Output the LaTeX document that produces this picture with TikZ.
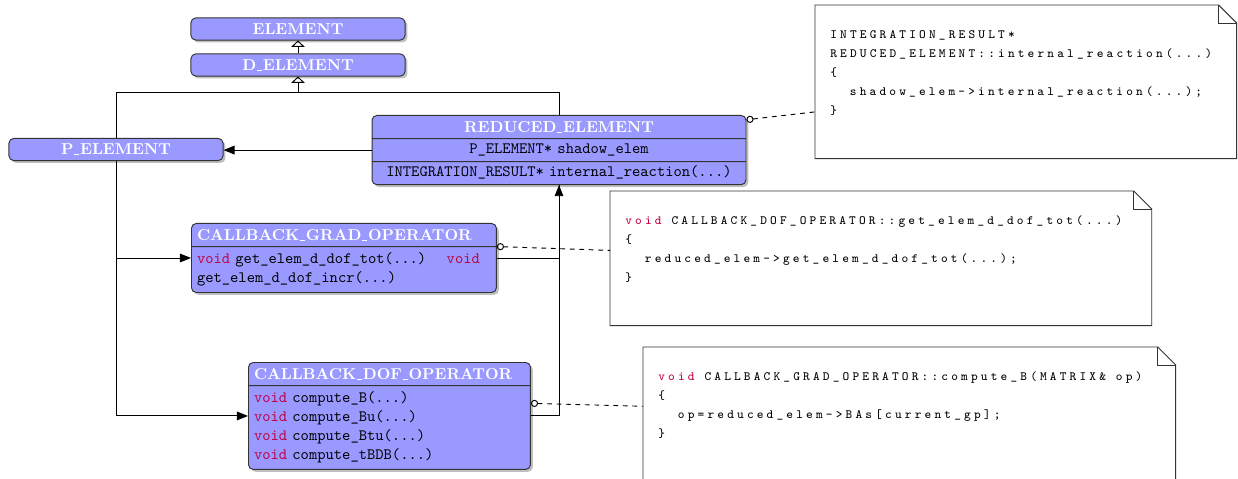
\documentclass[tikz,border=0pt]{standalone}
\usepackage{fontspec}
\usetikzlibrary{arrows.meta,shapes.multipart,shadows}
\newfontfamily\notemono{lmmono8-regular}[Extension=.otf,LetterSpace=25]
\newcommand{\us}{\leavevmode\kern.06em\vbox{\hrule width.3em height.5pt}\kern.06em}
\newcommand{\clsname}[1]{{\rmfamily\bfseries\color{white}\rule[-2.6pt]{0pt}{12pt}#1}}
\newcommand{\kw}[1]{\textcolor{purple}{#1}}
\newcommand{\topgap}{\rule{0pt}{9.5pt}}
\newcommand{\botgap}{\rule[-5pt]{0pt}{5pt}}
\newcommand{\notefont}{\fontsize{8}{12}\selectfont\notemono}
\tikzset{
      classbox/.style={
        rounded corners=3pt,
        draw=black!80,
        line width=0.6pt,
        fill=blue!40,
        drop shadow={shadow xshift=1.5pt,shadow yshift=-1.5pt,opacity=0.5},
        font=\ttfamily,
        inner xsep=4pt,
        inner ysep=1pt
      },
      plainclass/.style={
        classbox,
        minimum width=135.5pt,
        minimum height=13.9pt
      },
      notebox/.style={
        anchor=north west,
        inner xsep=9.5pt,
        inner ysep=12.8pt
      },
      noteedge/.style={draw=black!80, line width=0.6pt},
      conn/.style={line width=0.6pt},
      inherit/.style={conn, -{Triangle[open,length=4pt,width=8.5pt]}},
      assoc/.style={conn, -{Triangle[length=7pt,width=5.5pt]}},
      notelink/.style={conn, dashed, {Circle[open,length=4.5pt]}-}
    }
\begin{document}
\begin{tikzpicture}[x=0.633pt,y=-0.633pt]
    \useasboundingbox (0,0) rectangle (1238,479);
    % class hierarchy
    \node[plainclass] (elem) at (298,29) {\clsname{ELEMENT}};
    \node[plainclass] (delem) at (298,65) {\clsname{D\us ELEMENT}};
    \node[plainclass] (pelem) at (116,149.5) {\clsname{P\us ELEMENT}};
    \node[classbox, rectangle split, rectangle split parts=3, align=center, text width=228.7pt, anchor=north] (red) at (559,115)
      {\clsname{REDUCED\us ELEMENT}
       \nodepart{second}\strut P\_ELEMENT* shadow\_elem
       \nodepart{third}\strut INTEGRATION\_RESULT* internal\_reaction(...)};
    \node[classbox, rectangle split, rectangle split parts=2, align=left, text width=186pt, inner xsep=3.5pt, anchor=north west] (cgrad) at (191,223)
      {\clsname{CALLBACK\us GRAD\us OPERATOR}
       \nodepart{second}\topgap\kw{void} get\_elem\_d\_dof\_tot(...)\hspace*{13pt}\kw{void}\\
       get\_elem\_d\_dof\_incr(...)\botgap};
    \node[classbox, rectangle split, rectangle split parts=2, align=left, text width=171.5pt, inner xsep=3.5pt, anchor=north west] (cdof) at (248,362)
      {\clsname{CALLBACK\us DOF\us OPERATOR}
       \nodepart{second}\topgap\kw{void} compute\_B(...)\\
       \kw{void} compute\_Bu(...)\\
       \kw{void} compute\_Btu(...)\\
       \kw{void} compute\_tBDB(...)\botgap};
    % notes
    \node[notebox] (n1) at (815,5) {\begin{minipage}[t][71.3pt][t]{247.5pt}\notefont\raggedright
      \strut INTEGRATION\_RESULT*\\
      REDUCED\_ELEMENT::internal\_reaction(...)\\
      \{\\
      \hspace*{12.4pt}shadow\_elem->internal\_reaction(...);\\
      \}\end{minipage}};
    \node[notebox] (n2) at (610,191) {\begin{minipage}[t][59.2pt][t]{323.5pt}\notefont\raggedright
      \strut\kw{void}~CALLBACK\_DOF\_OPERATOR::get\_elem\_d\_dof\_tot(...)\\
      \{\\
      \hspace*{12.4pt}reduced\_elem->get\_elem\_d\_dof\_tot(...);\\
      \}\end{minipage}};
    \node[notebox] (n3) at (643,347) {\begin{minipage}[t][63pt][t]{317.8pt}\notefont\raggedright
      \strut\kw{void}~CALLBACK\_GRAD\_OPERATOR::compute\_B(MATRIX\&~op)\\
      \{\\
      \hspace*{12.4pt}op=reduced\_elem->BAs[current\_gp];\\
      \}\end{minipage}};
    \draw[noteedge] (n1.north west) -- ([xshift=-11.4pt]n1.north east) -- ([yshift=-11.4pt]n1.north east) -- (n1.south east) -- (n1.south west) -- cycle;
    \draw[noteedge] ([xshift=-11.4pt]n1.north east) |- ([yshift=-11.4pt]n1.north east);
    \draw[noteedge] (n2.north west) -- ([xshift=-11.4pt]n2.north east) -- ([yshift=-11.4pt]n2.north east) -- (n2.south east) -- (n2.south west) -- cycle;
    \draw[noteedge] ([xshift=-11.4pt]n2.north east) |- ([yshift=-11.4pt]n2.north east);
    \draw[noteedge] (n3.north west) -- ([xshift=-11.4pt]n3.north east) -- ([yshift=-11.4pt]n3.north east) -- (n3.south east) -- (n3.south west) -- cycle;
    \draw[noteedge] ([xshift=-11.4pt]n3.north east) |- ([yshift=-11.4pt]n3.north east);
    % connectors
    \coordinate (join) at (298,92);
    \draw[inherit] (delem.north) -- (elem.south);
    \draw[inherit] (pelem.north) |- (join) -- (delem.south);
    \draw[conn] (red.north) |- (join);
    \draw[assoc] (red.west) -- (red.west -| pelem.east);
    \draw[assoc] (pelem.south) |- (cgrad.west);
    \draw[assoc] (pelem.south) |- (cdof.west);
    \draw[conn] (cgrad.east) -| (red.south);
    \draw[assoc] (cdof.east) -| (red.south);
    \draw[notelink] ([yshift=-3pt]red.north east) -- ([yshift=-19pt]n1.west);
    \draw[notelink] (cgrad.text split east) -- ([yshift=5pt]n2.west);
    \draw[notelink] ([yshift=8pt]cdof.east) -- ([yshift=7pt]n3.west);
    \end{tikzpicture}
\end{document}
